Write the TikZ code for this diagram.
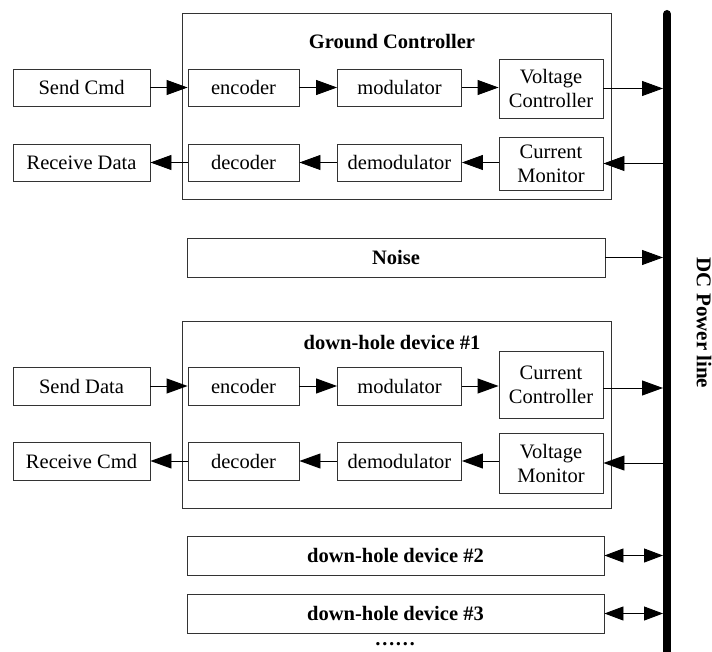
\documentclass[tikz,border=0pt]{standalone}
\usepackage{fontspec}
\setmainfont{Liberation Serif}
\usetikzlibrary{arrows.meta}
\begin{document}
\begin{tikzpicture}[x=1pt,y=-1pt,
  blk/.style={draw=black!80, line width=0.9pt, inner sep=0pt, align=center,
    font=\fontsize{20.5}{24}\selectfont},
  grp/.style={draw=black!80, line width=0.9pt},
  ttl/.style={font=\fontsize{20.5}{24}\selectfont\bfseries, inner sep=0pt},
  arr/.style={draw=black, line width=0.9pt, -{Triangle[length=21pt,width=15pt]}},
  darr/.style={draw=black, line width=0.9pt, {Triangle[length=19pt,width=14pt]}-{Triangle[length=19pt,width=14pt]}},
]
\useasboundingbox (0,0) rectangle (712,652);
% Ground controller group
\draw[grp] (182,13) rectangle (611,199);
\node[ttl] (gct) at (392,42) {Ground Controller};
\node[blk, minimum width=137pt, minimum height=37pt] (sendcmd) at (81.5,87.5) {Send Cmd};
\node[blk, minimum width=111pt, minimum height=37pt] (enc1) at (243.5,87.5) {encoder};
\node[blk, minimum width=124pt, minimum height=37pt] (mod1) at (399.5,87.5) {modulator};
\node[blk, minimum width=104pt, minimum height=59pt] (vc) at (551,88.5) {Voltage\\Controller};
\node[blk, minimum width=137pt, minimum height=37pt] (recdata) at (81.5,162.5) {Receive Data};
\node[blk, minimum width=111pt, minimum height=37pt] (dec1) at (243.5,162.5) {decoder};
\node[blk, minimum width=124pt, minimum height=37pt] (dem1) at (399.5,162.5) {demodulator};
\node[blk, minimum width=104pt, minimum height=53pt] (cm) at (551,163.5) {Current\\Monitor};
% Noise
\node[blk, minimum width=418pt, minimum height=39pt, font=\fontsize{20.5}{24}\selectfont\bfseries] (noise) at (396,257.5) {Noise};
% down-hole device 1
\draw[grp] (182,321) rectangle (611,508);
\node[ttl] (dht) at (392,342) {down-hole device \#1};
\node[blk, minimum width=137pt, minimum height=38pt] (senddata) at (81.5,386) {Send Data};
\node[blk, minimum width=111pt, minimum height=38pt] (enc2) at (243.5,386) {encoder};
\node[blk, minimum width=124pt, minimum height=38pt] (mod2) at (399.5,386) {modulator};
\node[blk, minimum width=104pt, minimum height=67pt] (cc) at (551,384.5) {Current\\Controller};
\node[blk, minimum width=137pt, minimum height=38pt] (reccmd) at (81.5,461) {Receive Cmd};
\node[blk, minimum width=111pt, minimum height=38pt] (dec2) at (243.5,461) {decoder};
\node[blk, minimum width=124pt, minimum height=38pt] (dem2) at (399.5,461) {demodulator};
\node[blk, minimum width=104pt, minimum height=60pt] (vm) at (551,463) {Voltage\\Monitor};
% down-hole devices 2,3
\node[blk, minimum width=417pt, minimum height=39pt, font=\fontsize{20.5}{24}\selectfont\bfseries] (dh2) at (395.5,555.5) {down-hole device \#2};
\node[blk, minimum width=417pt, minimum height=39pt, font=\fontsize{20.5}{24}\selectfont\bfseries] (dh3) at (395.5,613.5) {down-hole device \#3};
\node[ttl, font=\fontsize{20.5}{24}\selectfont\bfseries] (dots) at (395,644) {\dots\dots};
% bus
\draw[line width=8pt, line cap=round] (667,14) -- (667,660);
\node[ttl, rotate=-90, font=\fontsize{21}{24}\selectfont\bfseries] (dcl) at (704,323) {DC Power line};
\coordinate (b1) at (663,88.5);
\coordinate (b2) at (663,163.5);
\coordinate (b3) at (663,257.5);
\coordinate (b4) at (663,388);
\coordinate (b5) at (663,463);
\coordinate (b6) at (663,555.5);
\coordinate (b7) at (663,613.5);
% arrows
\draw[arr] (sendcmd) -- (enc1);
\draw[arr] (enc1) -- (mod1);
\draw[arr] (mod1) -- (mod1 -| vc.west);
\draw[arr] (vc.east |- b1) -- (b1);
\draw[arr] (b2) -- (cm.east |- b2);
\draw[arr] (cm.west |- dem1) -- (dem1);
\draw[arr] (dem1) -- (dec1);
\draw[arr] (dec1) -- (recdata);
\draw[arr] (noise) -- (b3);
\draw[arr] (senddata) -- (enc2);
\draw[arr] (enc2) -- (mod2);
\draw[arr] (mod2) -- (mod2 -| cc.west);
\draw[arr] (cc.east |- b4) -- (b4);
\draw[arr] (b5) -- (vm.east |- b5);
\draw[arr] (vm.west |- dem2) -- (dem2);
\draw[arr] (dem2) -- (dec2);
\draw[arr] (dec2) -- (reccmd);
\draw[darr] (dh2) -- (b6);
\draw[darr] (dh3) -- (b7);
\end{tikzpicture}
\end{document}
